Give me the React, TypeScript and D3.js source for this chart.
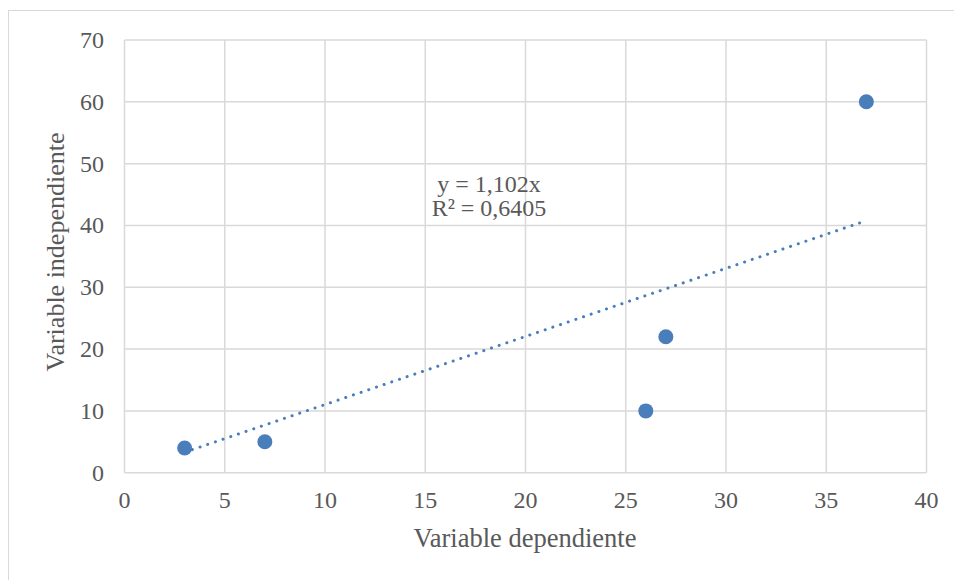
import * as d3 from 'd3'
import { FC } from 'react'

// dependent variable (x) and independent variable (y)
const xValues: number[] = [3, 7, 26, 27, 37]
const yValues: number[] = [4, 5, 10, 22, 60]
const xTicks: number[] = [0, 5, 10, 15, 20, 25, 30, 35, 40]
const yTicks: number[] = [0, 10, 20, 30, 40, 50, 60, 70]
const slope = 1.102
const equationLines: string[] = ['y = 1,102x', 'R² = 0,6405']

const App: FC = () => {
    const width = 954
    const height = 580
    const plot = { left: 124.5, right: 926.5, top: 40, bottom: 472.7 }
    const font = '"Liberation Serif", "Times New Roman", serif'
    const grey = '#595959'
    const blue = '#4a7ebb'

    const x = d3.scaleLinear().domain([0, 40]).range([plot.left, plot.right])
    const y = d3.scaleLinear().domain([0, 70]).range([plot.bottom, plot.top])

    const points = xValues.map((v, i) => ({ x: v, y: yValues[i] }))
    const [x0, x1] = d3.extent(xValues) as [number, number]
    const trend = d3.line<number>()
        .x(d => x(d))
        .y(d => y(slope * d))([x0, x1 - 0.3])

    return (
        <svg
            width={width}
            height={height}
            style={{ position: 'absolute', left: 0, top: 0, background: '#fff' }}
        >
            <rect x={8.5} y={10.5} width={960} height={600} fill="#fff" stroke="#d9d9d9" />

            {/* gridlines */}
            {xTicks.map(t => (
                <line key={'gx' + t} x1={x(t)} x2={x(t)} y1={plot.top} y2={plot.bottom}
                    stroke="#d9d9d9" strokeWidth={1.5} />
            ))}
            {yTicks.map(t => (
                <line key={'gy' + t} x1={plot.left} x2={plot.right} y1={y(t)} y2={y(t)}
                    stroke="#d9d9d9" strokeWidth={1.5} />
            ))}

            {/* tick labels */}
            {xTicks.map(t => (
                <text key={'tx' + t} x={x(t)} y={508} textAnchor="middle"
                    fontFamily={font} fontSize={24} fill={grey}>{t}</text>
            ))}
            {yTicks.map(t => (
                <text key={'ty' + t} x={104} y={y(t) + 8} textAnchor="end"
                    fontFamily={font} fontSize={24} fill={grey}>{t}</text>
            ))}

            {/* trendline */}
            <path d={trend ?? ''} fill="none" stroke={blue} strokeWidth={3}
                strokeDasharray="0.1 8" strokeLinecap="round" />

            {/* points */}
            {points.map((p, i) => (
                <circle key={i} cx={x(p.x)} cy={y(p.y)} r={7.5} fill={blue} />
            ))}

            {/* equation */}
            {equationLines.map((l, i) => (
                <text key={l} x={489} y={192 + i * 24} textAnchor="middle"
                    fontFamily={font} fontSize={24} fill={grey}>{l}</text>
            ))}

            {/* axis titles */}
            <text x={525} y={547} textAnchor="middle" fontFamily={font} fontSize={26.5} fill={grey}>
                Variable dependiente
            </text>
            <text transform={`translate(64,252) rotate(-90)`}
                textAnchor="middle" fontFamily={font} fontSize={26} fill={grey}>
                Variable independiente
            </text>
        </svg>
    )
}

export default App
